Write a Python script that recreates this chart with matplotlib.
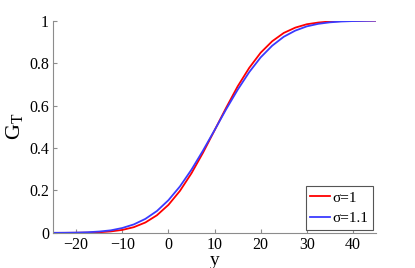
import matplotlib
matplotlib.use("Agg")
import matplotlib.pyplot as plt

# values
y_vals = [-25, -22.5, -20, -17.5, -15, -12.5, -10, -7.5, -5, -2.5, 0, 2.5, 5, 7.5,
          10, 12.5, 15, 17.5, 20, 22.5, 25, 27.5, 30, 32.5, 35, 37.5, 40, 42.5, 45]
g_sigma1 = [0.0001, 0.0002, 0.0005, 0.0013, 0.003, 0.007, 0.014, 0.027, 0.049, 0.083,
            0.132, 0.198, 0.281, 0.378, 0.483, 0.589, 0.690, 0.777, 0.849, 0.903,
            0.942, 0.967, 0.983, 0.991, 0.996, 0.998, 0.999, 1.0, 1.0]
g_sigma11 = [0.0003, 0.0006, 0.0014, 0.003, 0.0064, 0.012, 0.023, 0.040, 0.066, 0.103,
             0.154, 0.219, 0.298, 0.388, 0.484, 0.582, 0.674, 0.757, 0.827, 0.882,
             0.924, 0.953, 0.973, 0.985, 0.992, 0.996, 0.998, 0.999, 1.0]
x_ticks = [-20, -10, 0, 10, 20, 30, 40]
y_ticks = [0, 0.2, 0.4, 0.6, 0.8, 1]
y_ticklabels = ["0", "0.2", "0.4", "0.6", "0.8", "1"]

plt.rcParams['font.family'] = ['Liberation Serif', 'DejaVu Serif']
plt.rcParams['mathtext.fontset'] = 'custom'
plt.rcParams['mathtext.rm'] = 'Liberation Serif'
plt.rcParams['mathtext.it'] = 'Liberation Serif'

fig = plt.figure(figsize=(4.15, 2.68), dpi=100)
ax = fig.add_axes([0.128, 0.131, 0.778, 0.792])

ax.plot(y_vals, g_sigma1, color='#ff0000', linewidth=1.3, label='σ=1')
ax.plot(y_vals, g_sigma11, color='#3a3aff', linewidth=1.3, label='σ=1.1')

ax.set_xlim(-25, 45)
ax.set_ylim(0, 1)
ax.set_xticks(x_ticks)
ax.set_yticks(y_ticks)
ax.set_yticklabels(y_ticklabels)

grey = '#8c8c8c'
for side in ['top', 'right']:
    ax.spines[side].set_visible(False)
for side in ['left', 'bottom']:
    ax.spines[side].set_color(grey)
    ax.spines[side].set_linewidth(0.8)
ax.tick_params(direction='in', length=3, color=grey, labelsize=11.5, pad=3)

ax.set_xlabel('y', fontsize=14, labelpad=-1)
ax.set_ylabel(r'$\mathrm{G_T}$', fontsize=16, labelpad=3)

leg = ax.legend(loc='lower right', bbox_to_anchor=(0.99, 0.015), fontsize=11,
                fancybox=False, framealpha=1, edgecolor='#555555',
                handlelength=1.3, handletextpad=0.15, borderpad=0.3,
                labelspacing=0.45, borderaxespad=0.0)
leg.get_frame().set_linewidth(0.8)

fig.savefig('out.png', dpi=100)
